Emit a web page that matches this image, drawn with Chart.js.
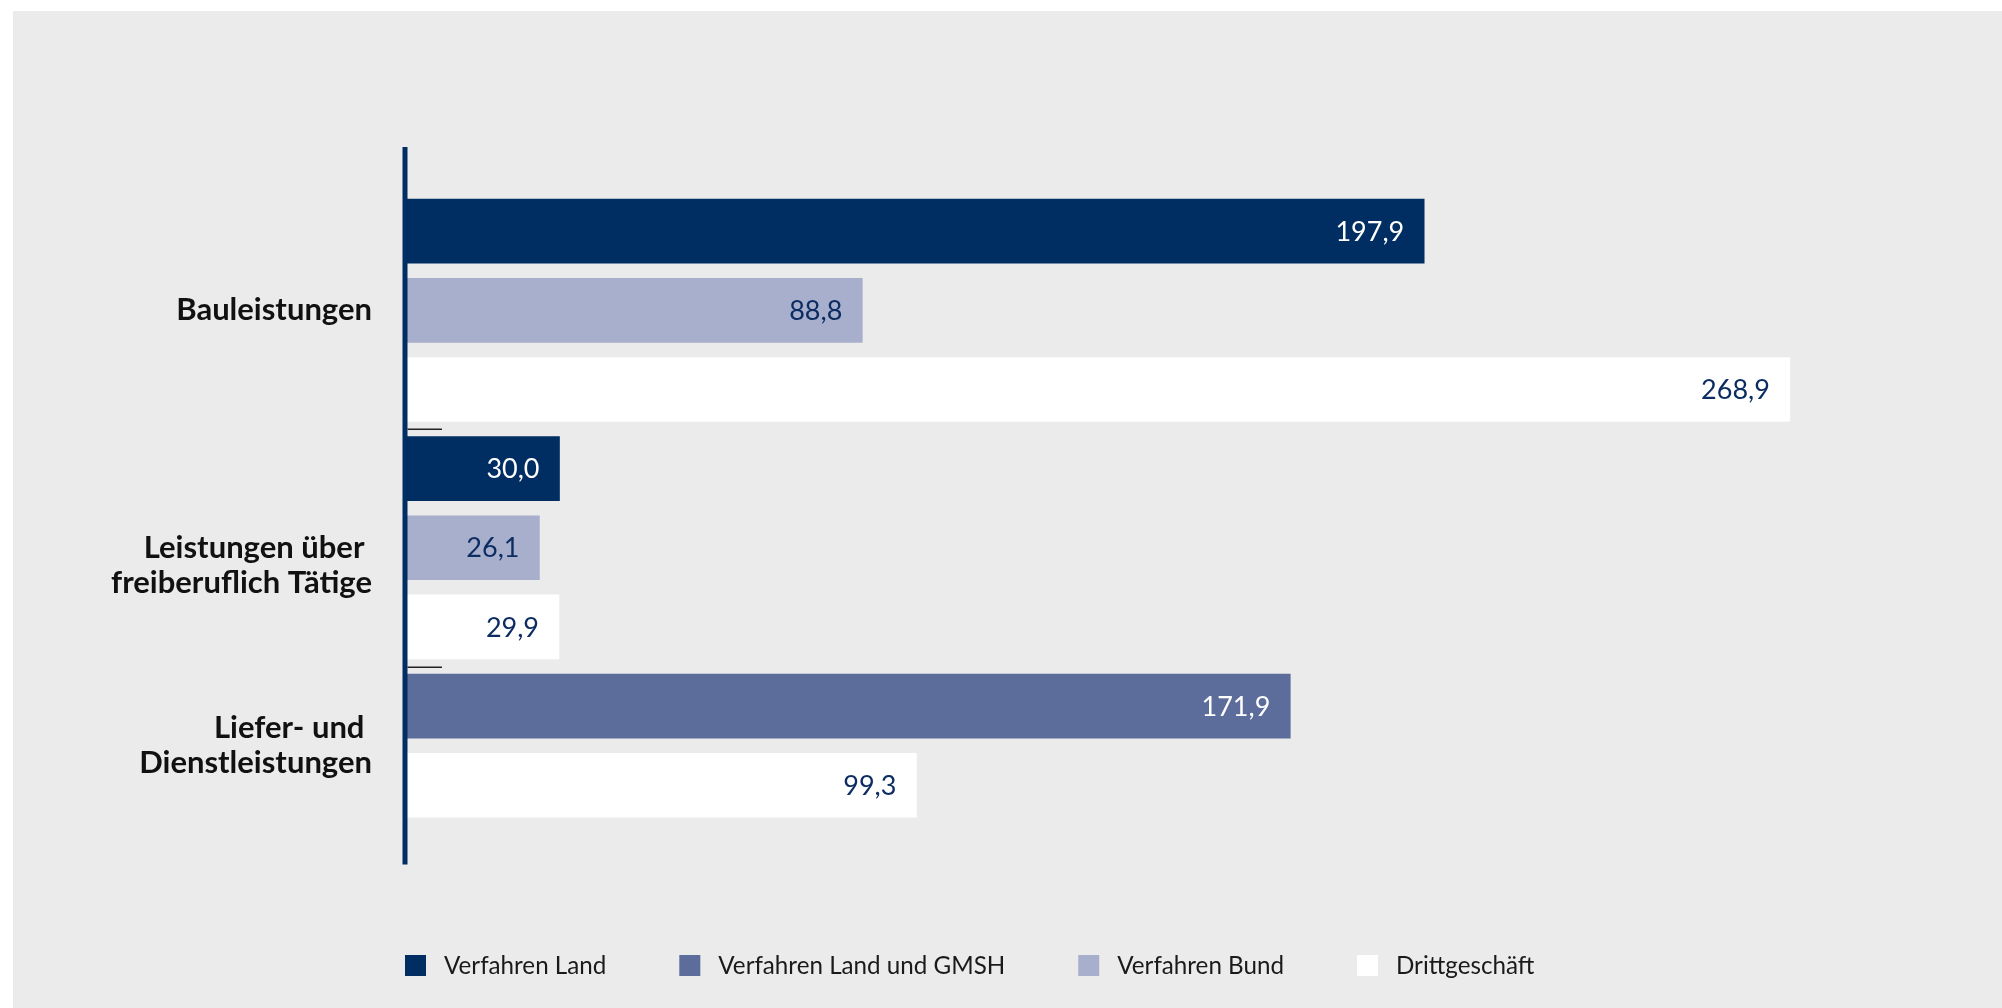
<!DOCTYPE html>
<html lang="de">
<head>
<meta charset="utf-8">
<title>Vergabeverfahren</title>
<script src="https://cdn.jsdelivr.net/npm/chart.js@4/dist/chart.umd.min.js"></script>
<style>
    html, body { margin: 0; padding: 0; background: #ffffff; }
    #panel { position: absolute; left: 13px; top: 11px; right: 0; bottom: 0; background: #ebebeb; }
    #chart { position: absolute; left: 0; top: 0; }
</style>
</head>
<body>
<div id="panel"></div>
<canvas id="chart" width="2002" height="1008"></canvas>
<script>
// Kategorien (Zeilenumbrüche wie im Original)
const categories = [
    ['Bauleistungen'],
    ['', 'Leistungen über ', 'freiberuflich Tätige'],
    ['Liefer- und ', 'Dienstleistungen']
];

const seriesNames = ['Verfahren Land', 'Verfahren Land und GMSH', 'Verfahren Bund', 'Drittgeschäft'];
const verfahrenLand = [197.9, 30.0, null];
const verfahrenLandGmsh = [null, null, 171.9];
const verfahrenBund = [88.8, 26.1, null];
const drittgeschaeft = [268.9, 29.9, 99.3];

const seriesColors = ['#002d62', '#5c6c9b', '#a8afcc', '#ffffff'];
const valueColors = ['#ffffff', '#ffffff', '#0d2d62', '#0d2d62'];
const axisColor = '#002d62';
const FONT = 'Lato';

function fmt(v) {
    return v.toFixed(1).replace('.', ',');
}

// one row per visible bar, blank row at top and bottom
const seriesValues = [verfahrenLand, verfahrenLandGmsh, verfahrenBund, drittgeschaeft];
const rowLabels = [''];
const rowData = seriesValues.map(function () { return [null]; });
const groups = [];
categories.forEach(function (cat, ci) {
    const first = rowLabels.length;
    seriesValues.forEach(function (vals, si) {
        if (vals[ci] == null) return;
        rowLabels.push(cat.join(' ').trim() + ' – ' + seriesNames[si]);
        rowData.forEach(function (arr, k) { arr.push(k === si ? vals[ci] : null); });
    });
    groups.push({ first: first, last: rowLabels.length - 1, label: cat });
});
rowLabels.push('');
rowData.forEach(function (arr) { arr.push(null); });

const datasets = seriesNames.map(function (name, i) {
    return {
        label: name,
        data: rowData[i],
        backgroundColor: seriesColors[i],
        borderWidth: 0,
        barThickness: 64
    };
});

const valueLabels = {
    id: 'valueLabels',
    afterDatasetsDraw(chart) {
        const ctx = chart.ctx;
        ctx.save();
        ctx.font = '400 27px ' + FONT;
        ctx.textAlign = 'right';
        ctx.textBaseline = 'middle';
        chart.data.datasets.forEach(function (ds, di) {
            chart.getDatasetMeta(di).data.forEach(function (bar, i) {
                const v = ds.data[i];
                if (v == null) return;
                ctx.fillStyle = valueColors[di];
                ctx.fillText(fmt(v), bar.x - 20, bar.y + 1);
            });
        });
        ctx.restore();
    }
};

// axis line, short marks between the groups, legend
const decorations = {
    id: 'decorations',
    afterDraw(chart) {
        const ctx = chart.ctx;
        const y = chart.scales.y;
        const area = chart.chartArea;
        const left = area.left;
        ctx.save();

        ctx.strokeStyle = axisColor;
        ctx.lineWidth = 5;
        ctx.beginPath();
        ctx.moveTo(left, area.top - 5);
        ctx.lineTo(left, area.bottom);
        ctx.stroke();

        ctx.strokeStyle = '#222222';
        ctx.lineWidth = 1.5;
        for (let g = 1; g < groups.length; g++) {
            const py = Math.round(y.getPixelForValue(groups[g].first - 0.5)) + 0.25;
            ctx.beginPath();
            ctx.moveTo(left + 2.5, py);
            ctx.lineTo(left + 37, py);
            ctx.stroke();
        }

        ctx.font = '400 24.2px ' + FONT;
        ctx.textAlign = 'left';
        ctx.textBaseline = 'middle';
        let x = left;
        const cy = 965.5;
        chart.data.datasets.forEach(function (ds) {
            ctx.fillStyle = ds.backgroundColor;
            ctx.fillRect(x, cy - 10.5, 21, 21);
            ctx.fillStyle = '#1a1a1a';
            ctx.fillText(ds.label, x + 39, cy + 1);
            x += 39 + ctx.measureText(ds.label).width + 73;
        });
        ctx.restore();
    }
};

new Chart(document.getElementById('chart'), {
    type: 'bar',
    data: { labels: rowLabels, datasets: datasets },
    options: {
        indexAxis: 'y',
        responsive: false,
        animation: false,
        devicePixelRatio: 1,
        events: [],
        layout: { padding: { top: 152, bottom: 143.6, left: 0, right: 52 } },
        plugins: {
            legend: { display: false },
            tooltip: { enabled: false }
        },
        scales: {
            x: { type: 'linear', min: 0, max: 300, stacked: true, display: false },
            y: {
                type: 'category',
                stacked: true,
                offset: false,
                grid: { display: false, drawTicks: false },
                border: { display: false },
                ticks: {
                    autoSkip: false,
                    padding: 33,
                    color: '#111111',
                    font: { family: FONT, size: 31, weight: '700', lineHeight: 1.13 },
                    callback: function (value) {
                        const g = groups.find(function (gr) { return (gr.first + gr.last) / 2 === value; });
                        return g ? g.label : '';
                    }
                },
                afterBuildTicks: function (scale) {
                    scale.ticks = groups.map(function (g) { return { value: (g.first + g.last) / 2 }; });
                },
                afterFit: function (scale) {
                    scale.width = 405;
                }
            }
        }
    },
    plugins: [valueLabels, decorations]
});
</script>
</body>
</html>
